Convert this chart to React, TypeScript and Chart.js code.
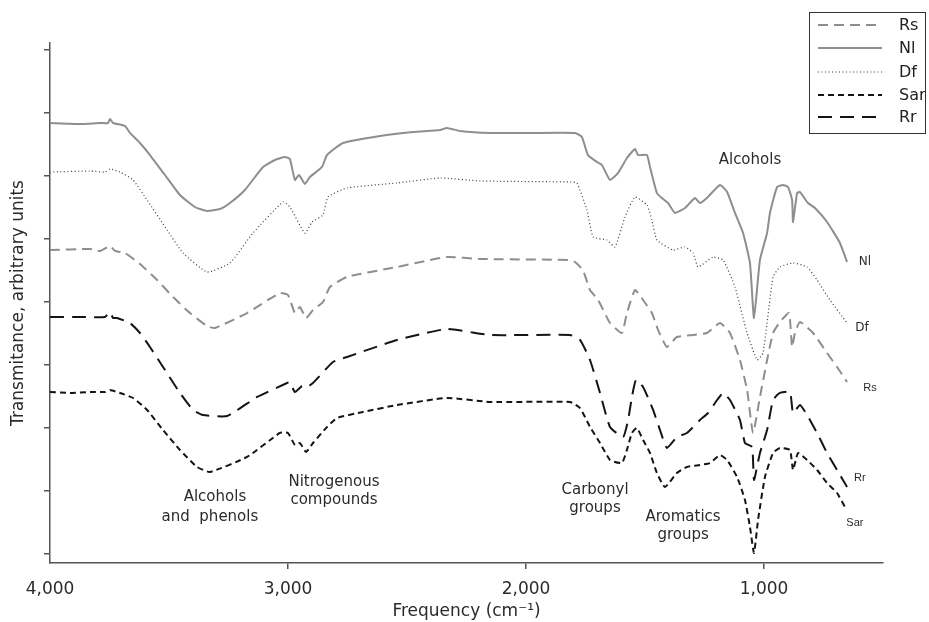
import { useEffect, useRef } from 'react';
import { Chart, registerables } from 'chart.js';

Chart.register(...registerables);

// Wavenumbers (cm^-1) and transmittance (arbitrary units, 10 per tick)
const nlWave = [4000, 3874, 3790, 3756, 3748, 3735, 3685, 3664, 3622, 3580, 3517, 3454, 3391, 3340, 3286, 3244, 3181, 3105, 3055, 3013, 2992, 2971, 2954, 2929, 2908, 2857, 2836, 2769, 2613, 2475, 2361, 2332, 2277, 2151, 1983, 1794, 1765, 1740, 1702, 1681, 1647, 1613, 1576, 1555, 1542, 1529, 1492, 1479, 1450, 1429, 1403, 1374, 1332, 1290, 1269, 1240, 1185, 1155, 1122, 1088, 1059, 1042, 1017, 987, 975, 945, 920, 899, 882, 878, 861, 849, 815, 786, 735, 681, 651];
const nlValue = [68.41, 68.25, 68.41, 68.41, 69.05, 68.41, 67.94, 66.83, 65.24, 63.33, 60.16, 56.98, 55.08, 54.44, 54.76, 55.71, 57.78, 61.43, 62.54, 63.02, 62.7, 59.37, 60.16, 58.73, 59.84, 61.43, 63.33, 65.24, 66.35, 66.98, 67.3, 67.62, 67.14, 66.83, 66.83, 66.83, 66.19, 63.33, 62.22, 61.75, 59.37, 60.48, 62.86, 63.81, 64.29, 63.33, 63.33, 61.43, 57.3, 56.51, 55.71, 54.13, 54.92, 56.51, 55.71, 56.51, 58.57, 57.46, 54.13, 50.95, 46.19, 37.46, 46.67, 50.95, 54.13, 58.25, 58.57, 58.25, 56.19, 52.7, 57.3, 57.46, 55.71, 54.92, 52.7, 49.37, 46.35];

const dfWave = [4000, 3832, 3769, 3748, 3706, 3651, 3592, 3508, 3441, 3340, 3244, 3147, 3021, 2992, 2929, 2899, 2853, 2832, 2752, 2542, 2361, 2193, 1815, 1786, 1744, 1718, 1660, 1626, 1584, 1542, 1492, 1471, 1450, 1382, 1332, 1298, 1277, 1214, 1172, 1122, 1071, 1029, 1004, 962, 933, 878, 819, 777, 723, 651];
const dfValue = [60.63, 60.79, 60.63, 61.11, 60.63, 59.37, 56.19, 51.43, 47.78, 44.76, 46.19, 50.95, 55.87, 55.08, 50.95, 52.7, 53.81, 56.67, 58.1, 58.89, 59.68, 59.21, 59.05, 58.89, 54.6, 50.32, 49.84, 48.73, 53.49, 56.67, 55.4, 53.02, 49.84, 48.25, 48.73, 47.78, 45.56, 47.14, 46.67, 42.38, 35.08, 30.79, 31.9, 43.97, 45.56, 46.19, 45.56, 43.49, 40.32, 36.67];

const rsWave = [4000, 3832, 3790, 3748, 3727, 3685, 3622, 3550, 3483, 3412, 3340, 3307, 3172, 3034, 3000, 2971, 2950, 2924, 2895, 2853, 2824, 2752, 2542, 2332, 2193, 1815, 1794, 1761, 1731, 1697, 1647, 1597, 1576, 1542, 1508, 1471, 1445, 1408, 1366, 1298, 1240, 1185, 1143, 1101, 1071, 1046, 1017, 987, 962, 933, 895, 882, 870, 849, 794, 735, 693, 651];
const rsValue = [48.25, 48.41, 48.1, 48.89, 48.1, 47.78, 46.03, 43.49, 40.79, 38.25, 36.19, 35.87, 38.25, 41.43, 41.11, 38.25, 39.21, 37.46, 38.73, 40.0, 42.38, 43.97, 45.56, 47.14, 46.83, 46.67, 46.35, 45.08, 41.9, 40.32, 36.67, 35.08, 38.25, 41.9, 40.32, 38.25, 35.56, 32.86, 34.44, 34.76, 35.08, 36.67, 35.08, 30.79, 26.03, 19.21, 24.92, 30.79, 35.08, 36.83, 38.25, 32.86, 35.08, 36.83, 35.08, 31.9, 29.68, 27.3];

const rrWave = [4000, 3874, 3769, 3748, 3735, 3718, 3664, 3622, 3580, 3525, 3454, 3399, 3357, 3256, 3130, 3004, 2992, 2971, 2941, 2920, 2895, 2811, 2752, 2542, 2332, 2151, 1815, 1773, 1731, 1689, 1647, 1592, 1571, 1555, 1538, 1508, 1466, 1437, 1408, 1366, 1324, 1269, 1235, 1197, 1172, 1143, 1101, 1080, 1050, 1042, 1017, 987, 962, 933, 891, 878, 849, 819, 777, 735, 693, 651];
const rrValue = [37.62, 37.62, 37.62, 38.41, 37.46, 37.46, 36.67, 35.08, 32.86, 29.68, 25.56, 22.86, 22.06, 21.9, 24.92, 27.14, 27.3, 25.71, 26.67, 26.51, 27.14, 30.48, 31.27, 33.97, 35.71, 34.76, 34.76, 33.97, 30.79, 25.56, 20.16, 18.57, 21.27, 24.92, 27.62, 26.51, 22.86, 19.68, 16.83, 18.57, 19.21, 21.27, 22.38, 24.44, 25.56, 24.44, 21.27, 17.62, 16.98, 11.75, 16.03, 19.68, 24.44, 25.56, 25.71, 22.38, 23.65, 22.06, 19.21, 16.03, 13.33, 10.63];

const sarWave = [4000, 3916, 3832, 3769, 3748, 3706, 3651, 3592, 3525, 3454, 3382, 3328, 3172, 3034, 3000, 2971, 2950, 2924, 2895, 2836, 2794, 2685, 2542, 2332, 2151, 1815, 1773, 1731, 1689, 1647, 1597, 1576, 1555, 1534, 1508, 1479, 1450, 1416, 1366, 1324, 1269, 1227, 1185, 1155, 1113, 1080, 1059, 1042, 1025, 996, 962, 933, 891, 878, 857, 819, 777, 735, 693, 660];
const sarValue = [25.71, 25.56, 25.71, 25.71, 26.03, 25.56, 24.76, 22.86, 19.68, 16.51, 13.81, 13.02, 15.4, 19.21, 19.21, 17.3, 17.62, 16.19, 17.62, 20.16, 21.59, 22.54, 23.65, 24.76, 24.13, 24.13, 23.17, 20.16, 17.62, 14.92, 14.44, 16.51, 19.21, 20.0, 18.1, 16.03, 12.86, 10.63, 12.86, 13.81, 14.13, 14.44, 15.71, 14.92, 12.22, 8.57, 4.29, 0.16, 5.4, 12.22, 16.03, 16.83, 16.51, 13.33, 16.03, 14.92, 13.33, 11.27, 9.68, 7.46];

const xTicks = [1000, 2000, 3000, 4000];
const yTicks = [0, 10, 20, 30, 40, 50, 60, 70, 80];

const legendOrder = ['Rs', 'Nl', 'Df', 'Sar', 'Rr'];

// Annotation texts anchored at [wavenumber, value]
const noteTexts = ['Alcohols', 'Carbonyl', 'groups', 'Aromatics', 'groups', 'Nitrogenous', 'compounds', 'Alcohols', 'and  phenols'];
const noteWave = [1059, 1710, 1710, 1340, 1340, 2807, 2807, 3307, 3328];
const noteValue = [62.54, 10.16, 7.3, 5.87, 3.02, 11.43, 8.57, 9.05, 5.87];

// End labels of the curves
const endTexts = ['Nl', 'Df', 'Rs', 'Rr', 'Sar'];
const endWave = [576, 588, 555, 597, 618];
const endValue = [46.35, 35.87, 26.35, 12.06, 4.92];
const endFonts = ['12px "DejaVu Sans"', '12px "DejaVu Sans"', '11px "Liberation Sans"', '11px "Liberation Sans"', '11px "Liberation Sans"'];

const zip = (w: number[], v: number[]) => w.map((x, i) => ({ x, y: v[i] }));

const GREY = '#8e8e8e';
const BLACK = '#141414';

export default function App() {
  const ref = useRef<HTMLCanvasElement | null>(null);

  useEffect(() => {
    if (!ref.current) return;

    const overlay = {
      id: 'overlay',
      afterDraw(chart: any) {
        const ctx = chart.ctx;
        const xs = chart.scales.x;
        const ys = chart.scales.y;
        ctx.save();
        // annotations
        ctx.fillStyle = '#2b2b2b';
        ctx.textAlign = 'center';
        ctx.textBaseline = 'middle';
        ctx.font = '15px "DejaVu Sans"';
        noteTexts.forEach((t, i) => {
          ctx.fillText(t, xs.getPixelForValue(noteWave[i]), ys.getPixelForValue(noteValue[i]));
        });
        endTexts.forEach((t, i) => {
          ctx.font = endFonts[i];
          ctx.fillText(t, xs.getPixelForValue(endWave[i]), ys.getPixelForValue(endValue[i]));
        });
        // legend
        const bx = 809, by = 12, bw = 116, bh = 121;
        ctx.fillStyle = '#fff';
        ctx.fillRect(bx, by, bw, bh);
        ctx.strokeStyle = '#333';
        ctx.lineWidth = 1;
        ctx.setLineDash([]);
        ctx.strokeRect(bx + 0.5, by + 0.5, bw, bh);
        const rowY = [25, 48, 72, 95, 117];
        legendOrder.forEach((name, i) => {
          const ds = chart.data.datasets.find((d: any) => d.label === name);
          if (!ds) return;
          ctx.beginPath();
          ctx.strokeStyle = ds.borderColor;
          ctx.lineWidth = ds.borderWidth;
          ctx.setLineDash(ds.borderDash || []);
          ctx.moveTo(818, rowY[i]);
          ctx.lineTo(882, rowY[i]);
          ctx.stroke();
          ctx.setLineDash([]);
          ctx.fillStyle = '#222';
          ctx.font = '16px "DejaVu Sans"';
          ctx.textAlign = 'left';
          ctx.textBaseline = 'middle';
          ctx.fillText(name, 899, rowY[i] + 1);
        });
        ctx.restore();
      },
    };

    const chart = new Chart(ref.current, {
      type: 'line',
      data: {
        datasets: [
          { label: 'Nl', data: zip(nlWave, nlValue), borderColor: GREY, borderWidth: 2, borderDash: [] },
          { label: 'Df', data: zip(dfWave, dfValue), borderColor: '#3a3a3a', borderWidth: 1.2, borderDash: [1, 2.5] },
          { label: 'Rs', data: zip(rsWave, rsValue), borderColor: GREY, borderWidth: 2, borderDash: [10, 6] },
          { label: 'Rr', data: zip(rrWave, rrValue), borderColor: BLACK, borderWidth: 2, borderDash: [14, 8] },
          { label: 'Sar', data: zip(sarWave, sarValue), borderColor: BLACK, borderWidth: 2, borderDash: [6, 4] },
        ].map((d) => ({ ...d, pointRadius: 0, fill: false, tension: 0.15 })),
      },
      options: {
        animation: false,
        responsive: true,
        maintainAspectRatio: false,
        layout: { padding: { top: 43, right: 46, left: 0, bottom: 0 } },
        plugins: { legend: { display: false }, tooltip: { enabled: false }, title: { display: false } },
        scales: {
          x: {
            type: 'linear',
            reverse: true,
            min: 500,
            max: 4000,
            afterBuildTicks: (s: any) => { s.ticks = xTicks.map((v) => ({ value: v })); },
            afterFit: (s: any) => { s.height = 59; },
            grid: {
              display: true,
              drawOnChartArea: false,
              drawTicks: true,
              tickLength: 6,
              color: (c: any) => (c.tick && c.tick.value === 4000 ? 'rgba(0,0,0,0)' : '#555'),
              lineWidth: 1.5,
            },
            border: { display: true, color: '#555', width: 1.5 },
            ticks: {
              color: '#2b2b2b',
              font: { family: 'DejaVu Sans', size: 17 },
              padding: 10,
              maxRotation: 0,
              callback: (v: any) => Number(v).toLocaleString('en-US'),
            },
            title: {
              display: true,
              text: 'Frequency (cm⁻¹)',
              color: '#2b2b2b',
              font: { family: 'DejaVu Sans', size: 17 },
              padding: { top: 0, bottom: 0 },
            },
          },
          y: {
            type: 'linear',
            min: -1.43,
            max: 81.11,
            afterBuildTicks: (s: any) => { s.ticks = yTicks.map((v) => ({ value: v })); },
            afterFit: (s: any) => { s.width = 50; },
            grid: { display: true, drawOnChartArea: false, drawTicks: true, tickLength: 6, color: '#555', lineWidth: 1.5 },
            border: { display: true, color: '#555', width: 1.5 },
            ticks: { display: false },
            title: {
              display: true,
              text: 'Transmitance, arbitrary units',
              color: '#2b2b2b',
              font: { family: 'DejaVu Sans', size: 17 },
              padding: { top: 8, bottom: 0 },
            },
          },
        },
      },
      plugins: [overlay],
    });
    return () => chart.destroy();
  }, []);

  return (
    <div style={{ position: 'absolute', left: 0, top: 0, width: 929, height: 622, background: '#fff' }}>
      <canvas ref={ref} />
    </div>
  );
}
